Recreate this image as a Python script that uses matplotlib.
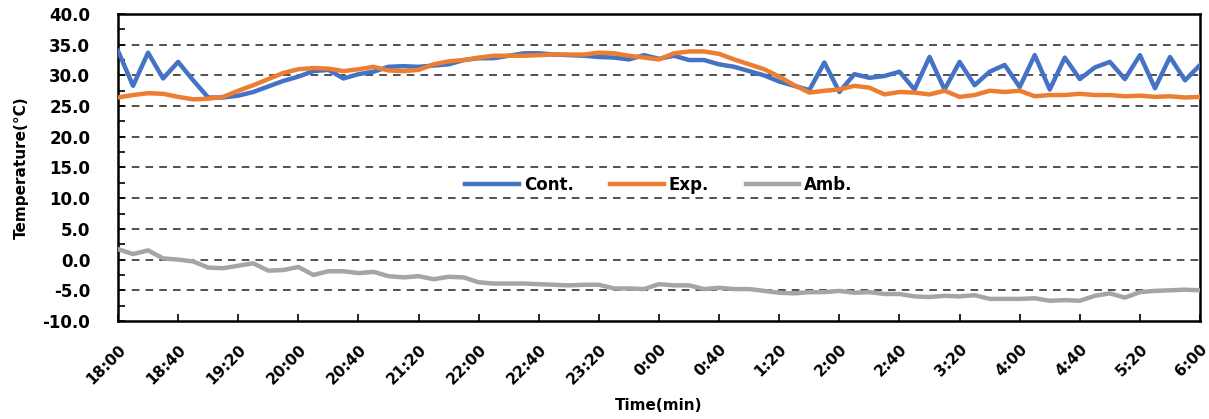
import numpy as np
import matplotlib.pyplot as plt
from matplotlib.ticker import MultipleLocator

# minutes after 18:00, one reading every 10 min
minutes = list(range(0, 721, 10))

cont = [34.0, 28.3, 33.7, 29.5, 32.2, 29.2, 26.4, 26.4, 26.7, 27.3,
        28.2, 29.1, 29.8, 30.7, 30.9, 29.5, 30.2, 30.6, 31.4, 31.5,
        31.4, 31.6, 31.8, 32.5, 32.8, 32.8, 33.2, 33.6, 33.6, 33.4,
        33.3, 33.2, 33.0, 32.9, 32.6, 33.3, 32.7, 33.2, 32.5, 32.5,
        31.8, 31.4, 30.7, 30.0, 29.0, 28.3, 27.6, 32.1, 27.3, 30.2,
        29.6, 29.9, 30.6, 27.7, 33.0, 27.7, 32.2, 28.4, 30.6, 31.7,
        28.1, 33.3, 27.7, 32.9, 29.4, 31.3, 32.2, 29.4, 33.3, 27.9,
        33.0, 29.2, 31.7]
exp = [26.4, 26.8, 27.1, 27.0, 26.5, 26.1, 26.2, 26.5, 27.5, 28.4,
       29.4, 30.4, 31.0, 31.2, 31.1, 30.7, 31.0, 31.4, 30.8, 30.7,
       30.9, 31.8, 32.3, 32.5, 32.9, 33.2, 33.2, 33.2, 33.3, 33.4,
       33.4, 33.4, 33.7, 33.6, 33.2, 32.9, 32.6, 33.6, 33.9, 33.9,
       33.5, 32.6, 31.8, 31.0, 29.8, 28.4, 27.2, 27.5, 27.7, 28.3,
       28.0, 26.9, 27.3, 27.2, 26.9, 27.5, 26.5, 26.8, 27.5, 27.3,
       27.5, 26.6, 26.8, 26.8, 27.0, 26.8, 26.8, 26.6, 26.7, 26.5,
       26.6, 26.4, 26.5]
amb = [1.7, 0.9, 1.5, 0.2, 0.0, -0.3, -1.3, -1.4, -1.0, -0.6,
       -1.8, -1.7, -1.2, -2.5, -1.9, -1.9, -2.2, -2.0, -2.7, -2.9,
       -2.7, -3.2, -2.8, -2.9, -3.7, -3.9, -3.9, -3.9, -4.0, -4.1,
       -4.2, -4.1, -4.1, -4.7, -4.7, -4.8, -4.0, -4.2, -4.2, -4.8,
       -4.6, -4.8, -4.8, -5.1, -5.4, -5.5, -5.3, -5.3, -5.1, -5.4,
       -5.3, -5.6, -5.6, -6.0, -6.1, -5.9, -6.0, -5.8, -6.4, -6.4,
       -6.4, -6.3, -6.7, -6.6, -6.7, -5.9, -5.5, -6.2, -5.3, -5.1,
       -5.0, -4.9, -5.0]

tick_pos = list(range(0, 721, 40))
tick_labels = ["18:00", "18:40", "19:20", "20:00", "20:40", "21:20", "22:00",
               "22:40", "23:20", "0:00", "0:40", "1:20", "2:00", "2:40",
               "3:20", "4:00", "4:40", "5:20", "6:00"]

fig = plt.figure(figsize=(12.09, 4.19), dpi=100)
ax = fig.add_axes([0.0976, 0.2339, 0.895, 0.7327])

ax.plot(minutes, cont, color="#4472C4", lw=3.2, label="Cont.", zorder=4)
ax.plot(minutes, exp, color="#ED7D31", lw=3.2, label="Exp.", zorder=5)
ax.plot(minutes, amb, color="#A5A5A5", lw=3.2, label="Amb.", zorder=3)

ax.set_xlim(0, 720)
ax.set_ylim(-10, 40)
ax.yaxis.set_minor_locator(MultipleLocator(2.5))
ax.set_yticks(np.arange(-10, 40.1, 5))
ax.set_yticklabels([f"{v:.1f}" for v in np.arange(-10, 40.1, 5)],
                   fontsize=12, fontweight="bold")
ax.set_xticks(tick_pos)
ax.set_xticklabels(tick_labels, rotation=45, ha="right", rotation_mode="anchor",
                   fontsize=11, fontweight="bold")

ax.tick_params(axis="y", which="both", direction="in", length=5, width=1.2, pad=20)
ax.tick_params(axis="x", direction="in", length=5, width=1.2, pad=15)

for v in np.arange(-5, 36, 5):
    ax.axhline(v, color="#222222", lw=1.1, ls=(0, (5, 4)), zorder=1)

for s in ax.spines.values():
    s.set_linewidth(1.8)
    s.set_color("black")

ax.set_xlabel("Time(min)", fontsize=11, fontweight="bold", labelpad=8)
ax.set_ylabel("Temperature(°C)", fontsize=11, fontweight="bold", labelpad=10)

ax.legend(loc="center", bbox_to_anchor=(0.5, 0.443), ncol=3, frameon=False,
          prop={"weight": "bold", "size": 12}, handlelength=3.2,
          columnspacing=2.2, handletextpad=0.3)

fig.savefig("out.png", dpi=100)
